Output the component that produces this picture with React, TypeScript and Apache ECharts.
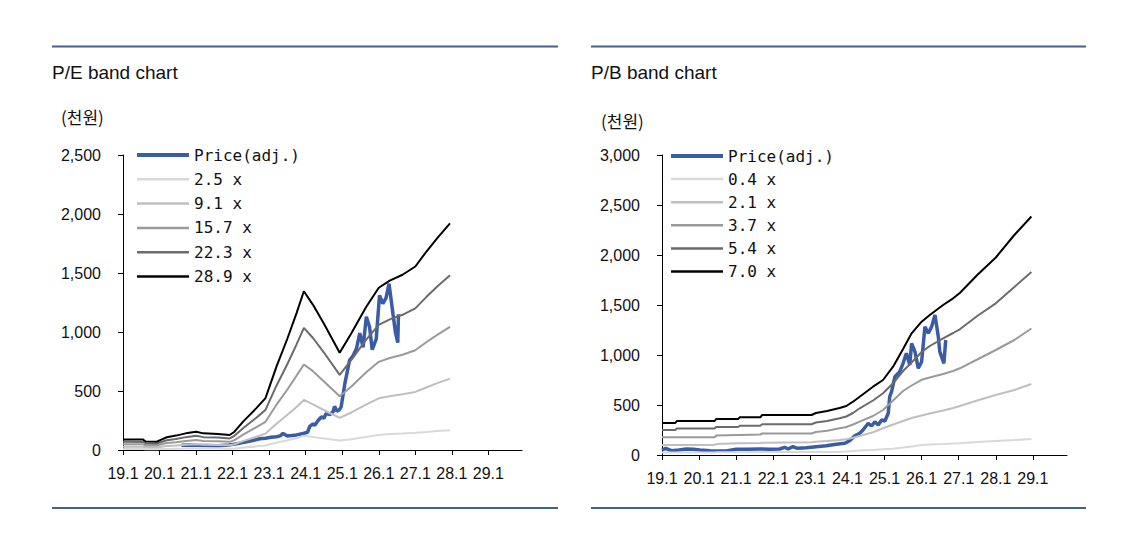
import { useEffect, useRef } from "react";
import * as echarts from "echarts";

// ---------- shared ----------
const xTickYears = [2019, 2020, 2021, 2022, 2023, 2024, 2025, 2026, 2027, 2028, 2029];

// ---------- P/E band chart ----------
const peNames = ["Price(adj.)", "2.5 x", "9.1 x", "15.7 x", "22.3 x", "28.9 x"];
const peBandDates = [2019.0, 2019.55, 2019.62, 2019.92, 2020.05, 2020.2, 2020.45, 2020.72, 2021.0, 2021.2, 2021.6, 2021.92, 2022.05, 2022.3, 2022.65, 2022.9, 2023.2, 2023.5, 2023.75, 2023.95, 2024.2, 2024.5, 2024.93, 2025.25, 2025.65, 2026.0, 2026.3, 2026.65, 2027.0, 2027.3, 2027.6, 2027.95];
const pe289 = [90, 88, 72, 70, 88, 108, 122, 141, 155, 141, 136, 127, 155, 245, 355, 440, 706, 945, 1160, 1345, 1230, 1070, 825, 990, 1210, 1375, 1435, 1485, 1555, 1680, 1795, 1920];
const pe223 = [69, 68, 56, 54, 68, 83, 94, 109, 120, 109, 105, 98, 120, 189, 274, 340, 545, 729, 895, 1035, 949, 826, 637, 764, 934, 1061, 1107, 1146, 1200, 1296, 1385, 1481];
const pe157 = [49, 48, 39, 38, 48, 59, 66, 77, 84, 77, 74, 69, 84, 133, 193, 239, 384, 513, 630, 725, 668, 581, 455, 538, 657, 747, 780, 807, 845, 913, 975, 1043];
const pe91 = [28, 28, 23, 22, 28, 34, 38, 44, 49, 44, 43, 40, 49, 77, 112, 139, 222, 298, 365, 424, 387, 337, 272, 318, 385, 438, 455, 472, 492, 530, 567, 605];
const pe25 = [8, 8, 6, 6, 8, 9, 11, 12, 13, 12, 12, 11, 13, 21, 31, 38, 61, 82, 100, 120, 110, 98, 80, 92, 110, 128, 135, 140, 146, 152, 160, 168];
const pePriceDates = [2020.6, 2020.8, 2021.0, 2021.3, 2021.6, 2021.9, 2022.05, 2022.2, 2022.38, 2022.55, 2022.74, 2022.9, 2023.05, 2023.2, 2023.3, 2023.38, 2023.5, 2023.62, 2023.75, 2023.93, 2024.05, 2024.11, 2024.2, 2024.25, 2024.34, 2024.43, 2024.5, 2024.56, 2024.66, 2024.75, 2024.79, 2024.85, 2024.92, 2024.97, 2025.07, 2025.2, 2025.3, 2025.39, 2025.48, 2025.57, 2025.66, 2025.75, 2025.82, 2025.93, 2026.02, 2026.11, 2026.2, 2026.28, 2026.39, 2026.46, 2026.52, 2026.54];
const pePrice = [40, 42, 40, 38, 36, 42, 50, 58, 70, 80, 95, 100, 108, 112, 120, 140, 118, 122, 128, 140, 150, 200, 220, 210, 250, 280, 270, 310, 300, 325, 370, 330, 340, 365, 560, 760, 800, 860, 990, 870, 1130, 1040, 850, 940, 1310, 1240, 1290, 1410, 1150, 990, 910, 1150];

// ---------- P/B band chart ----------
const pbNames = ["Price(adj.)", "0.4 x", "2.1 x", "3.7 x", "5.4 x", "7.0 x"];
const pbBandDates = [2019.0, 2019.36, 2019.4, 2020.42, 2020.46, 2021.05, 2021.1, 2021.65, 2021.7, 2023.03, 2023.15, 2023.45, 2023.79, 2023.97, 2024.15, 2024.33, 2024.69, 2024.96, 2025.23, 2025.5, 2025.73, 2026.0, 2026.22, 2026.58, 2026.85, 2027.03, 2027.5, 2028.0, 2028.5, 2028.96];
const pb70 = [320, 320, 340, 340, 360, 360, 377, 377, 400, 400, 420, 440, 470, 490, 533, 583, 683, 750, 883, 1060, 1217, 1333, 1400, 1500, 1567, 1620, 1800, 1975, 2200, 2385];
const pb54 = [250, 250, 265, 265, 280, 280, 292, 292, 307, 307, 325, 340, 367, 385, 420, 467, 545, 617, 717, 840, 925, 1030, 1090, 1167, 1220, 1257, 1390, 1517, 1680, 1830];
const pb37 = [177, 177, 177, 177, 195, 200, 200, 205, 215, 215, 230, 242, 267, 280, 305, 333, 390, 450, 545, 640, 695, 752, 775, 810, 840, 867, 955, 1050, 1150, 1265];
const pb21 = [100, 100, 100, 100, 110, 117, 117, 120, 123, 127, 132, 140, 150, 158, 172, 190, 228, 267, 305, 340, 370, 395, 415, 445, 470, 490, 545, 600, 650, 710];
const pb04 = [25, 25, 25, 25, 27, 27, 28, 28, 29, 29, 30, 31, 33, 35, 40, 45, 50, 57, 62, 75, 85, 100, 105, 110, 115, 117, 130, 140, 150, 160];
const pbPriceDates = [2019.0, 2019.1, 2019.25, 2019.45, 2019.66, 2019.85, 2020.02, 2020.3, 2020.73, 2021.0, 2021.3, 2021.63, 2021.9, 2022.17, 2022.31, 2022.4, 2022.53, 2022.65, 2022.89, 2023.16, 2023.43, 2023.7, 2023.93, 2024.06, 2024.2, 2024.33, 2024.42, 2024.56, 2024.65, 2024.74, 2024.83, 2024.92, 2025.01, 2025.1, 2025.14, 2025.19, 2025.28, 2025.41, 2025.5, 2025.59, 2025.68, 2025.73, 2025.82, 2025.91, 2026.0, 2026.09, 2026.18, 2026.27, 2026.36, 2026.45, 2026.49, 2026.6, 2026.65];
const pbPrice = [50, 67, 43, 50, 60, 58, 50, 43, 40, 57, 58, 60, 58, 60, 77, 60, 83, 67, 73, 83, 93, 107, 117, 143, 193, 217, 250, 317, 290, 333, 300, 350, 340, 417, 583, 633, 783, 833, 917, 1017, 900, 1117, 1033, 867, 933, 1283, 1217, 1283, 1400, 1183, 1033, 917, 1150];

// ---------- styles ----------
const lineColors = ["#3a5ba6", "#d9d9d9", "#bfbfbf", "#9a9a9a", "#6b6b6b", "#000000"];
const lineWidths = [3.5, 2, 2, 2, 2, 2];
const legendWidths = [4, 2.5, 2.5, 2.5, 2.5, 2.5];
const SANS = '"Liberation Sans", Arial, sans-serif';
const MONO = '"DejaVu Sans Mono", "Liberation Mono", monospace';
const CJK = '"Noto Sans CJK KR", sans-serif';
const RULE = "#44618e";

const zip = (xs: number[], ys: number[]) => xs.map((x, i) => [x, ys[i]]);

function buildSeries(names: string[], dataSets: number[][][], idx: number) {
  return names.map((name, i) => ({
    name,
    type: "line",
    xAxisIndex: idx,
    yAxisIndex: idx,
    data: dataSets[i],
    symbol: "none",
    showSymbol: false,
    smooth: false,
    lineStyle: { color: lineColors[i], width: lineWidths[i] },
    itemStyle: { color: lineColors[i] },
    emphasis: { disabled: true },
  }));
}

function xAxis(idx: number) {
  return {
    type: "value",
    gridIndex: idx,
    min: 2019,
    max: 2029.92,
    axisLine: { show: true, onZero: false, lineStyle: { color: "#000", width: 1 } },
    axisTick: { show: true, customValues: xTickYears, length: 5, lineStyle: { color: "#000" } },
    axisLabel: {
      customValues: xTickYears,
      formatter: (v: number) => `${String(Math.round(v)).slice(2)}.1`,
      fontFamily: SANS,
      fontSize: 16,
      color: "#111",
      margin: 15,
    },
    splitLine: { show: false },
  };
}

function yAxis(idx: number, max: number) {
  return {
    type: "value",
    gridIndex: idx,
    min: 0,
    max,
    interval: 500,
    axisLine: { show: true, lineStyle: { color: "#000", width: 1 } },
    axisTick: { show: true, length: 5, lineStyle: { color: "#000" } },
    axisLabel: {
      formatter: (v: number) => v.toLocaleString("en-US"),
      fontFamily: SANS,
      fontSize: 16,
      color: "#111",
      margin: 22,
    },
    splitLine: { show: false },
  };
}

function legend(names: string[], left: number, top: number, gap: number) {
  return {
    data: names.map((name, i) => ({
      name,
      lineStyle: { width: legendWidths[i], color: lineColors[i] },
    })),
    orient: "vertical",
    left,
    top,
    padding: 0,
    itemWidth: 52,
    itemHeight: 14,
    itemGap: gap,
    selectedMode: false,
    itemStyle: { color: "rgba(0,0,0,0)", borderColor: "rgba(0,0,0,0)", borderWidth: 0, opacity: 0 },
    textStyle: { fontFamily: MONO, fontSize: 16, color: "#111", lineHeight: 18 },
  };
}

const label = (text: string, x: number, y: number, size: number, family: string) => ({
  type: "text",
  x,
  y,
  silent: true,
  style: { text, fontSize: size, fontFamily: family, fill: "#111", verticalAlign: "middle", align: "left" },
});

const rule = (x1: number, x2: number, y: number) => ({
  type: "line",
  silent: true,
  shape: { x1, y1: y, x2, y2: y },
  style: { stroke: RULE, lineWidth: 2 },
});

export default function App() {
  const ref = useRef<HTMLDivElement>(null);
  useEffect(() => {
    const chart = echarts.init(ref.current!, null, { renderer: "svg" });
    const peData = [
      zip(pePriceDates, pePrice),
      zip(peBandDates, pe25),
      zip(peBandDates, pe91),
      zip(peBandDates, pe157),
      zip(peBandDates, pe223),
      zip(peBandDates, pe289),
    ];
    const pbData = [
      zip(pbPriceDates, pbPrice),
      zip(pbBandDates, pb04),
      zip(pbBandDates, pb21),
      zip(pbBandDates, pb37),
      zip(pbBandDates, pb54),
      zip(pbBandDates, pb70),
    ];
    chart.setOption({
      animation: false,
      backgroundColor: "#ffffff",
      grid: [
        { left: 123, top: 155, width: 399, height: 295, containLabel: false },
        { left: 662, top: 155, width: 405, height: 300, containLabel: false },
      ],
      xAxis: [xAxis(0), xAxis(1)],
      yAxis: [yAxis(0, 2500), yAxis(1, 3000)],
      legend: [legend(peNames, 135, 146, 6.3), legend(pbNames, 669, 147, 5.1)],
      series: [...buildSeries(peNames, peData, 0), ...buildSeries(pbNames, pbData, 1)],
      graphic: [
        rule(52, 558, 46.5),
        rule(52, 558, 508),
        rule(591, 1086, 46.5),
        rule(591, 1086, 508),
        label("P/E band chart", 52, 72, 19, SANS),
        label("P/B band chart", 591, 72, 19, SANS),
        label("(천원)", 61, 116, 17, CJK),
        label("(천원)", 601, 120, 17, CJK),
      ],
    });
    return () => chart.dispose();
  }, []);
  return (
    <div
      ref={ref}
      style={{ position: "fixed", left: 0, top: 0, width: 1126, height: 534, background: "#fff" }}
    />
  );
}
